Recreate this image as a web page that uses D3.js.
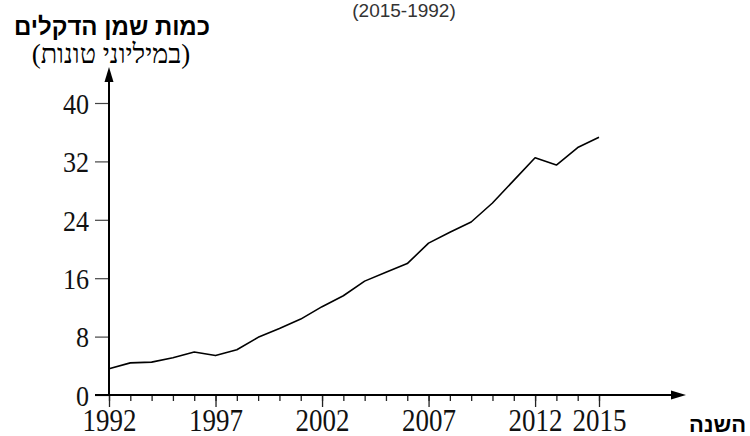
<!DOCTYPE html>
<html>
<head>
<meta charset="utf-8">
<script src="https://cdn.jsdelivr.net/npm/d3@7"></script>
<style>
  body { margin: 0; background: #fff; }
</style>
</head>
<body>
<div id="chart"></div>
<script>
// palm oil quantity, millions of tonnes
let years = [1992, 1993, 1994, 1995, 1996, 1997, 1998, 1999, 2000, 2001, 2002, 2003,
             2004, 2005, 2006, 2007, 2008, 2009, 2010, 2011, 2012, 2013, 2014, 2015]
let amounts = [3.6, 4.4, 4.5, 5.1, 5.9, 5.4, 6.2, 7.9, 9.1, 10.4, 12.1, 13.6,
               15.6, 16.8, 18.0, 20.8, 22.3, 23.7, 26.3, 29.4, 32.5, 31.5, 33.9, 35.3]
let yTicks = [0, 8, 16, 24, 32, 40]
let xLabelYears = [1992, 1997, 2002, 2007, 2012, 2015]

let svg = d3.select("#chart").append("svg")
    .attr("width", 750)
    .attr("height", 436)
    .style("display", "block")

let x = d3.scaleLinear().domain([1992, 2015]).range([109, 599])
let y = d3.scaleLinear().domain([0, 40]).range([395, 103])

let serif = "'Liberation Serif', 'DejaVu Serif', serif"
let sans = "'Liberation Sans', 'DejaVu Sans', sans-serif"

// top (cut) title
svg.append('text')
    .attr('x', 404)
    .attr('y', 17)
    .attr('text-anchor', 'middle')
    .style('font-family', sans)
    .style('font-size', '19px')
    .style('fill', '#333')
    .text('(2015-1992)')

// y axis title
svg.append('text')
    .attr('x', 112)
    .attr('y', 35)
    .attr('text-anchor', 'middle')
    .attr('direction', 'rtl')
    .style('font-family', sans)
    .style('font-weight', 'bold')
    .style('font-size', '24px')
    .text('כמות שמן הדקלים')

svg.append('text')
    .attr('x', 111)
    .attr('y', 63)
    .attr('text-anchor', 'middle')
    .attr('direction', 'rtl')
    .style('font-family', serif)
    .style('font-size', '27px')
    .text('(במיליוני טונות)')

// y axis
let yAxis = svg.append('g')
    .attr('transform', 'translate(109,0)')
    .call(d3.axisLeft(y).tickValues(yTicks).tickSize(14).tickPadding(0))

yAxis.select('.domain').remove()
yAxis.selectAll('.tick line').attr('stroke', '#444').attr('stroke-width', 1.2)
yAxis.selectAll('.tick text')
    .attr('x', 0)
    .attr('dy', '0.34em')
    .attr('transform', 'translate(-20,0) scale(0.87,1)')
    .style('font-family', serif)
    .style('font-size', '30px')
    .style('fill', '#111')

svg.append('line')
    .attr('x1', 109).attr('y1', 395)
    .attr('x2', 109).attr('y2', 78)
    .attr('stroke', 'black')
    .attr('stroke-width', 2)

svg.append('path')
    .attr('d', 'M109,67 L104.5,82 L113.5,82 Z')
    .attr('fill', 'black')

// x axis: minor ticks each year, longer ticks at labelled years
let xMinor = svg.append('g')
    .attr('transform', 'translate(0,395)')
    .call(d3.axisBottom(x).tickValues(years).tickSize(6).tickFormat(''))
xMinor.select('.domain').remove()
xMinor.selectAll('.tick line').attr('stroke', '#222').attr('stroke-width', 1.3)

let xAxis = svg.append('g')
    .attr('transform', 'translate(0,395)')
    .call(d3.axisBottom(x).tickValues(xLabelYears).tickSize(12).tickFormat(d3.format('d')))
xAxis.select('.domain').remove()
xAxis.selectAll('.tick line').attr('stroke', '#222').attr('stroke-width', 1.3)
xAxis.selectAll('.tick text')
    .attr('y', 36)
    .attr('dy', 0)
    .attr('transform', 'scale(0.87,1)')
    .style('font-family', serif)
    .style('font-size', '31px')
    .style('fill', '#111')

svg.append('line')
    .attr('x1', 95).attr('y1', 395)
    .attr('x2', 675).attr('y2', 395)
    .attr('stroke', 'black')
    .attr('stroke-width', 2)

svg.append('path')
    .attr('d', 'M686,395 L671,390.5 L671,399.5 Z')
    .attr('fill', 'black')

svg.append('text')
    .attr('x', 746)
    .attr('y', 432)
    .attr('text-anchor', 'start')
    .attr('direction', 'rtl')
    .style('font-family', sans)
    .style('font-weight', 'bold')
    .style('font-size', '22px')
    .text('השנה')

// the data line
let line = d3.line()
    .x((d, i) => x(years[i]))
    .y((d) => y(d))

svg.append('path')
    .attr('d', line(amounts))
    .attr('fill', 'none')
    .attr('stroke', 'black')
    .attr('stroke-width', 1.6)
    .attr('stroke-linejoin', 'round')
</script>
</body>
</html>
